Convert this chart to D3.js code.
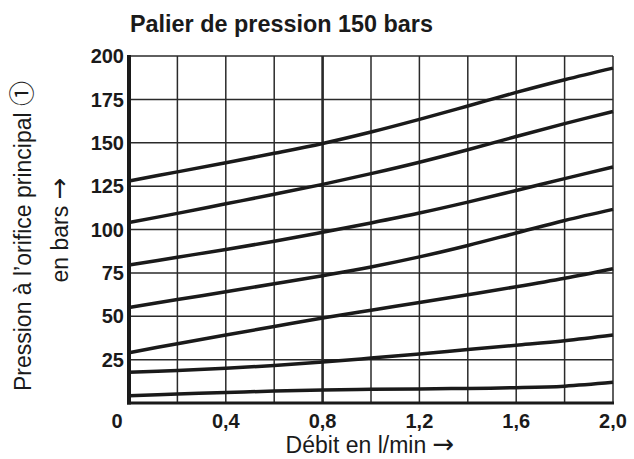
<!DOCTYPE html>
<html lang="fr">
<head>
    <meta charset="UTF-8">
    <title>Palier de pression 150 bars</title>
    <script type="text/javascript" src="https://cdn.jsdelivr.net/npm/d3@7/dist/d3.min.js"></script>
    <style>
        body {
            margin: 0;
            background: #fff;
        }

        svg text {
            font-family: "Liberation Sans", Arial, sans-serif;
            fill: #1a1a1a;
        }

        .grid line {
            stroke: #2a2a2a;
            stroke-width: 1.5;
        }

        .tick-label {
            font-size: 20px;
            font-weight: bold;
        }

        .title-axe {
            font-size: 23px;
        }

        .fleche {
            font-family: "DejaVu Sans", sans-serif;
            font-size: 26px;
        }

        .curve {
            fill: none;
            stroke: #1a1a1a;
            stroke-width: 3.5;
        }
    </style>
</head>
<body>
<script type="text/javascript">
	let width = 634;
	let height = 459;
	let margin = {top: 56, right: 21, bottom: 56, left: 129};

	// Débit (l/min)
	let debit = [0, 0.2, 0.4, 0.6, 0.8, 1.0, 1.2, 1.4, 1.6, 1.8, 2.0];
	// pression (bars), une courbe par ligne
	let courbe1 = [128, 133.2, 138.5, 143.9, 149.6, 156.2, 163.5, 171.2, 179, 186.3, 193];
	let courbe2 = [104, 109.3, 114.8, 120.3, 126, 132.2, 138.8, 146, 153.6, 161, 168];
	let courbe3 = [79.5, 84, 88.5, 93.2, 98.4, 103.8, 109.5, 115.8, 122.5, 129.3, 136];
	let courbe4 = [55, 59.6, 64.1, 68.7, 73.4, 78.4, 84.2, 90.8, 98, 105.2, 111.6];
	let courbe5 = [29, 34.2, 39.2, 44.1, 49, 53.5, 57.9, 62.4, 67, 71.9, 77.4];
	let courbe6 = [17.7, 18.7, 20, 21.6, 23.6, 25.9, 28.3, 30.8, 33.3, 35.9, 39.2];
	let courbe7 = [4.2, 5.2, 6.0, 6.9, 7.5, 7.9, 8.1, 8.4, 8.8, 9.7, 11.9];
	let courbes = [courbe1, courbe2, courbe3, courbe4, courbe5, courbe6, courbe7];

	let xTicks = [0, 0.4, 0.8, 1.2, 1.6, 2.0];
	let xTickLabels = ['0', '0,4', '0,8', '1,2', '1,6', '2,0'];
	let yTicks = [25, 50, 75, 100, 125, 150, 175, 200];

	let svg = d3.select('body')
		.append('svg')
		.attr('width', width)
		.attr('height', height);

	let x = d3.scaleLinear()
		.domain([0, 2])
		.range([margin.left, width - margin.right]);
	let y = d3.scaleLinear()
		.domain([0, 200])
		.range([height - margin.bottom, margin.top]);

	// grille
	let grid = svg.append('g').attr('class', 'grid');
	grid.selectAll('line.v')
		.data(d3.range(1, 11).map(function (i) { return i * 0.2; }))
		.enter()
		.append('line')
		.attr('class', 'v')
		.attr('x1', function (d) { return x(d); })
		.attr('x2', function (d) { return x(d); })
		.attr('y1', y(200))
		.attr('y2', y(0))
		.style('stroke-width', function (d, i) { return i === 3 ? 2.6 : null; });
	grid.selectAll('line.h')
		.data(yTicks)
		.enter()
		.append('line')
		.attr('class', 'h')
		.attr('x1', x(0))
		.attr('x2', x(2))
		.attr('y1', function (d) { return y(d); })
		.attr('y2', function (d) { return y(d); });

	// axes épais
	svg.append('line')
		.attr('x1', x(0)).attr('x2', x(0))
		.attr('y1', y(200) - 1).attr('y2', y(0) + 1.5)
		.attr('stroke', '#1a1a1a').attr('stroke-width', 4);
	svg.append('line')
		.attr('x1', x(0) - 2).attr('x2', x(2) + 1)
		.attr('y1', y(0)).attr('y2', y(0))
		.attr('stroke', '#1a1a1a').attr('stroke-width', 3);

	// courbes
	let line = d3.line()
		.x(function (d, i) { return x(debit[i]); })
		.y(function (d) { return y(d); })
		.curve(d3.curveCatmullRom.alpha(0.5));
	svg.selectAll('path.curve')
		.data(courbes)
		.enter()
		.append('path')
		.attr('class', 'curve')
		.attr('d', line);

	// graduations
	svg.selectAll('text.yl')
		.data(yTicks)
		.enter()
		.append('text')
		.attr('class', 'tick-label')
		.attr('x', x(0) - 5)
		.attr('y', function (d) { return y(d); })
		.attr('dy', '0.36em')
		.attr('text-anchor', 'end')
		.text(function (d) { return d; });
	svg.selectAll('text.xl')
		.data(xTicks)
		.enter()
		.append('text')
		.attr('class', 'tick-label')
		.attr('x', function (d) { return d === 0 ? x(d) - 12 : x(d); })
		.attr('y', y(0) + 25)
		.attr('text-anchor', 'middle')
		.text(function (d, i) { return xTickLabels[i]; });

	// titres
	svg.append('text')
		.attr('x', 130)
		.attr('y', 32)
		.style('font-size', '23.4px')
		.style('font-weight', 'bold')
		.text('Palier de pression 150 bars');

	let xt = svg.append('text')
		.attr('class', 'title-axe')
		.attr('x', 370)
		.attr('y', 453)
		.attr('text-anchor', 'middle');
	xt.append('tspan').text('Débit en l/min ');
	xt.append('tspan').attr('class', 'fleche').text('→');

	let yt = svg.append('text')
		.attr('class', 'title-axe')
		.attr('transform', 'translate(31,236) rotate(-90)')
		.attr('text-anchor', 'middle');
	yt.append('tspan').text('Pression à l\u2019orifice principal ');
	yt.append('tspan').style('font-family', '"Noto Sans CJK JP"').style('font-size', '25px').text('\u2460');

	let yt2 = svg.append('text')
		.attr('class', 'title-axe')
		.attr('transform', 'translate(68,230) rotate(-90)')
		.attr('text-anchor', 'middle');
	yt2.append('tspan').text('en bars ');
	yt2.append('tspan').attr('class', 'fleche').text('→');
</script>
</body>
</html>
